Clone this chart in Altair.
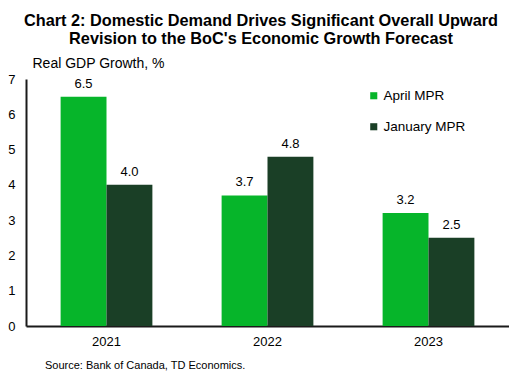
import altair as alt
import pandas as pd

years = ["2021", "2022", "2023"]
april = [6.5, 3.7, 3.2]
january = [4.0, 4.8, 2.5]
series = ["April MPR", "January MPR"]
colors = ["#06B52A", "#1A3F26"]
title_lines = ["Chart 2: Domestic Demand Drives Significant Overall Upward",
               "Revision to the BoC's Economic Growth Forecast"]
source = "Source:  Bank  of Canada,  TD  Economics."

rows = []
for i, y in enumerate(years):
    rows.append({"year": y, "series": series[0], "value": april[i], "label": f"{april[i]:.1f}"})
    rows.append({"year": y, "series": series[1], "value": january[i], "label": f"{january[i]:.1f}"})
df = pd.DataFrame(rows)

font = "Liberation Sans"

x = alt.X("year:N", title=None, scale=alt.Scale(paddingInner=0.43, paddingOuter=0.215),
          axis=alt.Axis(labelAngle=0, labelFontSize=13, labelColor="#000", labelPadding=9,
                        ticks=False, domainColor="#1a1a1a", domainWidth=2, labelFont=font))
y = alt.Y("value:Q", title="Real GDP Growth, %",
          scale=alt.Scale(domain=[0, 7], nice=False),
          axis=alt.Axis(values=list(range(8)), grid=False, ticks=False, labelFontSize=13,
                        labelColor="#000", labelPadding=11, domainColor="#1a1a1a", domainWidth=2,
                        titleAngle=0, titleX=6, titleY=-12, titleAlign="left",
                        titleBaseline="alphabetic",
                        titleFontSize=14, titleFontWeight="normal", titleColor="#000",
                        labelFont=font, titleFont=font))
color = alt.Color("series:N", scale=alt.Scale(domain=series, range=colors),
                  legend=alt.Legend(title=None, orient="none", legendX=341, legendY=10,
                                    symbolType="square", symbolSize=50, labelFontSize=13.5,
                                    labelColor="#000", rowPadding=16, labelFont=font,
                                    symbolStrokeWidth=0, labelOffset=3))
xo = alt.XOffset("series:N", scale=alt.Scale(domain=series, paddingInner=0, paddingOuter=0))

base = alt.Chart(df)
bars = base.mark_bar().encode(x=x, y=y, color=color, xOffset=xo)
labels = base.mark_text(dy=-13, fontSize=13, color="#000", font=font).encode(
    x=x, y=y, xOffset=xo, text="label:N")

one = pd.DataFrame({"t": [0]})
t1 = alt.Chart(one).mark_text(fontSize=16.3, fontWeight="bold", font=font, color="#000",
                              baseline="alphabetic", text=title_lines[0]).encode(
    x=alt.value(235), y=alt.value(-53))
t2 = alt.Chart(one).mark_text(fontSize=16.3, fontWeight="bold", font=font, color="#000",
                              baseline="alphabetic", text=title_lines[1]).encode(
    x=alt.value(235), y=alt.value(-35))
src = alt.Chart(one).mark_text(align="left", fontSize=11, color="#000", font=font,
                               text=source).encode(
    x=alt.value(19), y=alt.value(287))

chart = alt.layer(bars, labels, t1, t2, src).properties(
    width=483, height=247,
    autosize=alt.AutoSizeParams(type="none"),
    padding={"left": 18, "top": 71, "right": 0, "bottom": 50},
).configure_view(stroke=None)

chart.save("out.html", embed_options={"renderer": "svg", "actions": False})
